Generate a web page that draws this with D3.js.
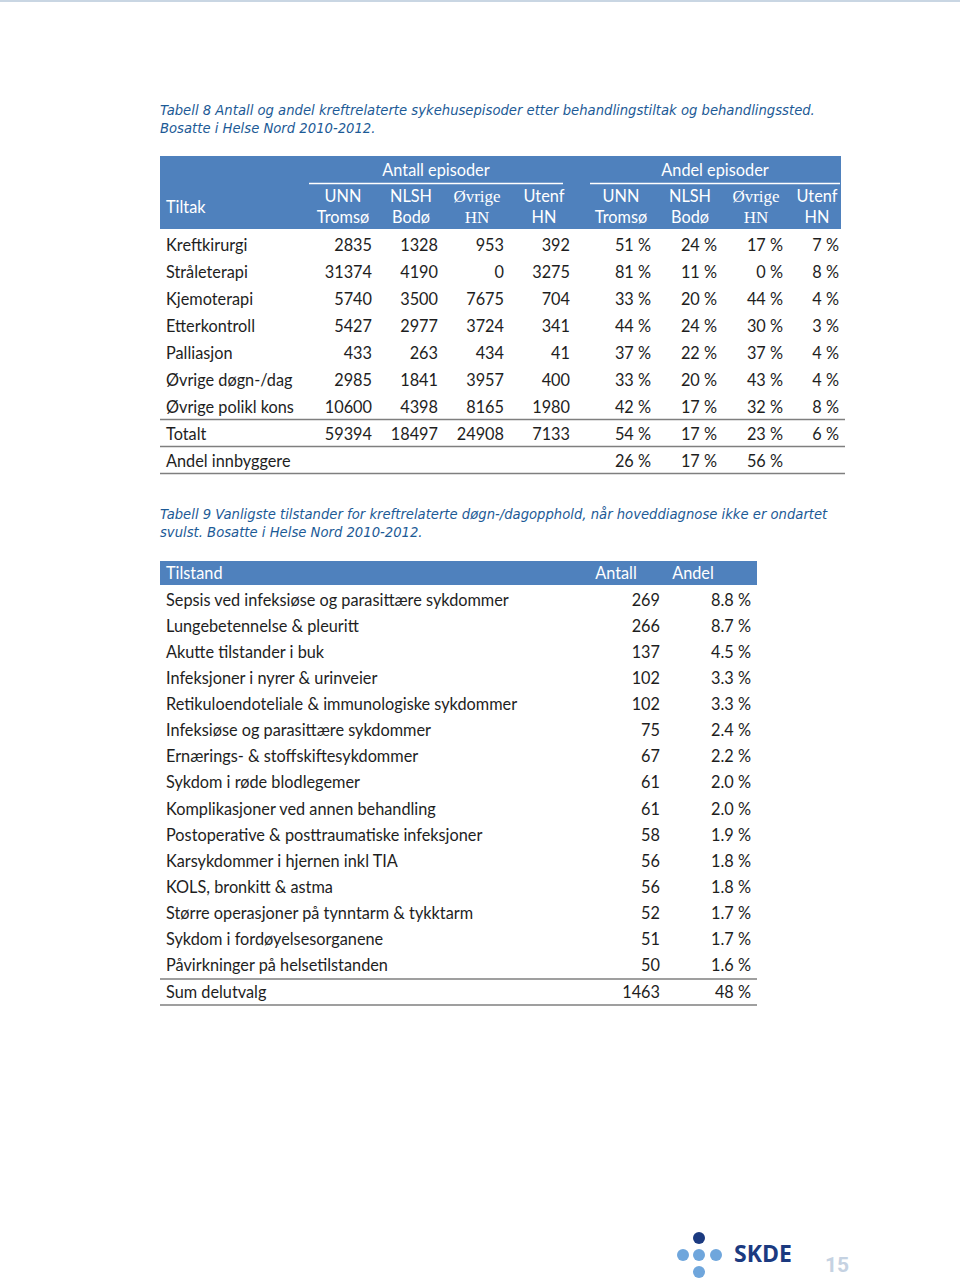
<!DOCTYPE html>
<html><head><meta charset="utf-8">
<script src="https://cdn.jsdelivr.net/npm/d3@7"></script>
<style>body{margin:0;background:#fff}svg{display:block}</style>
</head><body>
<script>
// ---------- Data: Tabell 8 ----------
const caption8 = ["Tabell 8 Antall og andel kreftrelaterte sykehusepisoder etter behandlingstiltak og behandlingssted.", "Bosatte i Helse Nord 2010-2012."];
const groupHeaders = ["Antall episoder", "Andel episoder"];
const colHeaders = [["UNN","Tromsø"],["NLSH","Bodø"],["Øvrige","HN"],["Utenf","HN"]];
const tiltak = ["Kreftkirurgi","Stråleterapi","Kjemoterapi","Etterkontroll","Palliasjon","Øvrige døgn-/dag","Øvrige polikl kons","Totalt","Andel innbyggere"];
const antUNN   = [2835, 31374, 5740, 5427, 433, 2985, 10600, 59394, null];
const antNLSH  = [1328, 4190, 3500, 2977, 263, 1841, 4398, 18497, null];
const antOvr   = [953, 0, 7675, 3724, 434, 3957, 8165, 24908, null];
const antUtenf = [392, 3275, 704, 341, 41, 400, 1980, 7133, null];
const pctUNN   = [51, 81, 33, 44, 37, 33, 42, 54, 26];
const pctNLSH  = [24, 11, 20, 24, 22, 20, 17, 17, 17];
const pctOvr   = [17, 0, 44, 30, 37, 43, 32, 23, 56];
const pctUtenf = [7, 8, 4, 3, 4, 4, 8, 6, null];

// ---------- Data: Tabell 9 ----------
const caption9 = ["Tabell 9 Vanligste tilstander for kreftrelaterte døgn-/dagopphold, når hoveddiagnose ikke er ondartet", "svulst. Bosatte i Helse Nord 2010-2012."];
const tilstand = ["Sepsis ved infeksiøse og parasittære sykdommer","Lungebetennelse & pleuritt","Akutte tilstander i buk","Infeksjoner i nyrer & urinveier","Retikuloendoteliale & immunologiske sykdommer","Infeksiøse og parasittære sykdommer","Ernærings- & stoffskiftesykdommer","Sykdom i røde blodlegemer","Komplikasjoner ved annen behandling","Postoperative & posttraumatiske infeksjoner","Karsykdommer i hjernen inkl TIA","KOLS, bronkitt & astma","Større operasjoner på tynntarm & tykktarm","Sykdom i fordøyelsesorganene","Påvirkninger på helsetilstanden","Sum delutvalg"];
const antall9 = [269,266,137,102,102,75,67,61,61,58,56,56,52,51,50,1463];
const andel9  = ["8.8 %","8.7 %","4.5 %","3.3 %","3.3 %","2.4 %","2.2 %","2.0 %","2.0 %","1.9 %","1.8 %","1.8 %","1.7 %","1.7 %","1.6 %","48 %"];

// ---------- Drawing ----------
const W = 960, H = 1283;
const BLUE = "#4f81bd", TXT = "#1e1e1e", CAP = "#1c5a96", RULE = "#7f7f7f";
const FONT = "Lato, 'Open Sans', sans-serif";
const FS = 16.3;
const svg = d3.select("body").append("svg").attr("width", W).attr("height", H);
svg.append("rect").attr("width", W).attr("height", H).attr("fill", "#fff");
svg.append("rect").attr("x",0).attr("y",0).attr("width",W).attr("height",2).attr("fill","#c9d6e3");

function caption(lines, y0) {
  svg.append("g").selectAll("text").data(lines).join("text")
    .attr("x", 160).attr("y", (d,i) => y0 + i*17.5)
    .attr("font-family", "'DejaVu Sans', sans-serif").attr("font-style","italic")
    .attr("font-size", 13.2).attr("fill", CAP).text(d => d);
}

// ===== Table 8 =====
caption(caption8, 115);
const cols = ["aU","aN","aO","aT","pU","pN","pO","pT"];
const colData = {aU:antUNN,aN:antNLSH,aO:antOvr,aT:antUtenf,pU:pctUNN,pN:pctNLSH,pO:pctOvr,pT:pctUtenf};
const xRight = d3.scaleOrdinal().domain(cols).range([372,438,504,570,651,717,783,839]);
const xHead  = d3.scaleOrdinal().domain(cols).range([343,411,477,544,621,690,756,817]);
const y8 = d3.scalePoint().domain(tiltak).range([245, 461]);

const t8 = svg.append("g");
t8.append("rect").attr("x",160).attr("y",156).attr("width",681).attr("height",73).attr("fill",BLUE);
t8.append("text").attr("x",166).attr("y",213).attr("fill","#fff").attr("font-family",FONT).attr("font-size",FS).text("Tiltak");
const groups = [{t:groupHeaders[0], x0:309, x1:563}, {t:groupHeaders[1], x0:590, x1:840}];
t8.selectAll(".gh").data(groups).join("text")
  .attr("x", d => (d.x0+d.x1)/2).attr("y", 176).attr("text-anchor","middle")
  .attr("fill","#fff").attr("font-family",FONT).attr("font-size",FS).text(d => d.t);
t8.selectAll(".gl").data(groups).join("line")
  .attr("x1", d=>d.x0).attr("x2", d=>d.x1).attr("y1",183.5).attr("y2",183.5)
  .attr("stroke","#fff").attr("stroke-width",1.5);
cols.forEach((c,i) => {
  const h = colHeaders[i % 4];
  const serif = (i % 4) === 2;
  h.forEach((line, j) => {
    t8.append("text").attr("x", xHead(c)).attr("y", 202 + j*21).attr("text-anchor","middle")
      .attr("fill","#fff")
      .attr("font-family", serif ? "'Liberation Serif', serif" : FONT)
      .attr("font-size", serif ? 17 : FS).text(line);
  });
});
t8.selectAll(".rl").data(tiltak).join("text")
  .attr("x",166).attr("y", d => y8(d)+5.5).attr("fill",TXT)
  .attr("font-family",FONT).attr("font-size",FS).text(d => d);
cols.forEach(c => {
  const isPct = c[0] === "p";
  t8.append("g").selectAll("text").data(colData[c].map((v,i)=>({v, r:tiltak[i]})).filter(d => d.v !== null))
    .join("text").attr("x", xRight(c)).attr("y", d => y8(d.r)+5.5).attr("text-anchor","end")
    .attr("fill",TXT).attr("font-family",FONT).attr("font-size",FS)
    .text(d => isPct ? d.v + " %" : d.v);
});
const step8 = y8.step();
const rules8 = ["Øvrige polikl kons","Totalt","Andel innbyggere"];
t8.selectAll(".rule").data(rules8).join("line")
  .attr("x1",160).attr("x2",845).attr("y1", d => y8(d)+step8/2-1).attr("y2", d => y8(d)+step8/2-1)
  .attr("stroke",RULE).attr("stroke-width",1.5);

// ===== Table 9 =====
caption(caption9, 519);
const y9 = d3.scalePoint().domain(tilstand).range([600, 992]);
const t9 = svg.append("g");
t9.append("rect").attr("x",160).attr("y",561).attr("width",597).attr("height",24).attr("fill",BLUE);
const head9 = [{t:"Tilstand", x:166, a:"start"},{t:"Antall", x:616, a:"middle"},{t:"Andel", x:693, a:"middle"}];
t9.selectAll(".h").data(head9).join("text").attr("x",d=>d.x).attr("y",579).attr("text-anchor",d=>d.a)
  .attr("fill","#fff").attr("font-family",FONT).attr("font-size",FS).text(d=>d.t);
t9.selectAll(".rl").data(tilstand).join("text").attr("x",166).attr("y",d=>y9(d)+5.5)
  .attr("fill",TXT).attr("font-family",FONT).attr("font-size",FS).text(d=>d);
t9.selectAll(".an").data(antall9).join("text").attr("x",660).attr("y",(d,i)=>y9(tilstand[i])+5.5)
  .attr("text-anchor","end").attr("fill",TXT).attr("font-family",FONT).attr("font-size",FS).text(d=>d);
t9.selectAll(".ad").data(andel9).join("text").attr("x",751).attr("y",(d,i)=>y9(tilstand[i])+5.5)
  .attr("text-anchor","end").attr("fill",TXT).attr("font-family",FONT).attr("font-size",FS).text(d=>d);
const step9 = y9.step();
t9.selectAll(".rule").data(["Påvirkninger på helsetilstanden","Sum delutvalg"]).join("line")
  .attr("x1",160).attr("x2",757).attr("y1", d => y9(d)+step9/2).attr("y2", d => y9(d)+step9/2)
  .attr("stroke",RULE).attr("stroke-width",1.5);

// ===== Logo & page number =====
const lg = svg.append("g");
const dots = [{x:699,y:1238,c:"#1b3a80"},{x:683,y:1255,c:"#6fa6dc"},{x:699,y:1255,c:"#6fa6dc"},{x:716,y:1255,c:"#6fa6dc"},{x:699,y:1272,c:"#6fa6dc"}];
lg.selectAll("circle").data(dots).join("circle").attr("cx",d=>d.x).attr("cy",d=>d.y).attr("r",6).attr("fill",d=>d.c);
lg.append("text").attr("x",734).attr("y",1262).attr("font-family","'Open Sans', sans-serif").attr("font-weight","bold")
  .attr("font-size",23).attr("fill","#1b3a80").text("SKDE");
lg.append("text").attr("x",825).attr("y",1272).attr("font-family","'Liberation Sans Narrow', 'Roboto', sans-serif").attr("font-weight","bold")
  .attr("font-size",21).attr("fill","#c5d2e2").text("15");
</script>
</body></html>
